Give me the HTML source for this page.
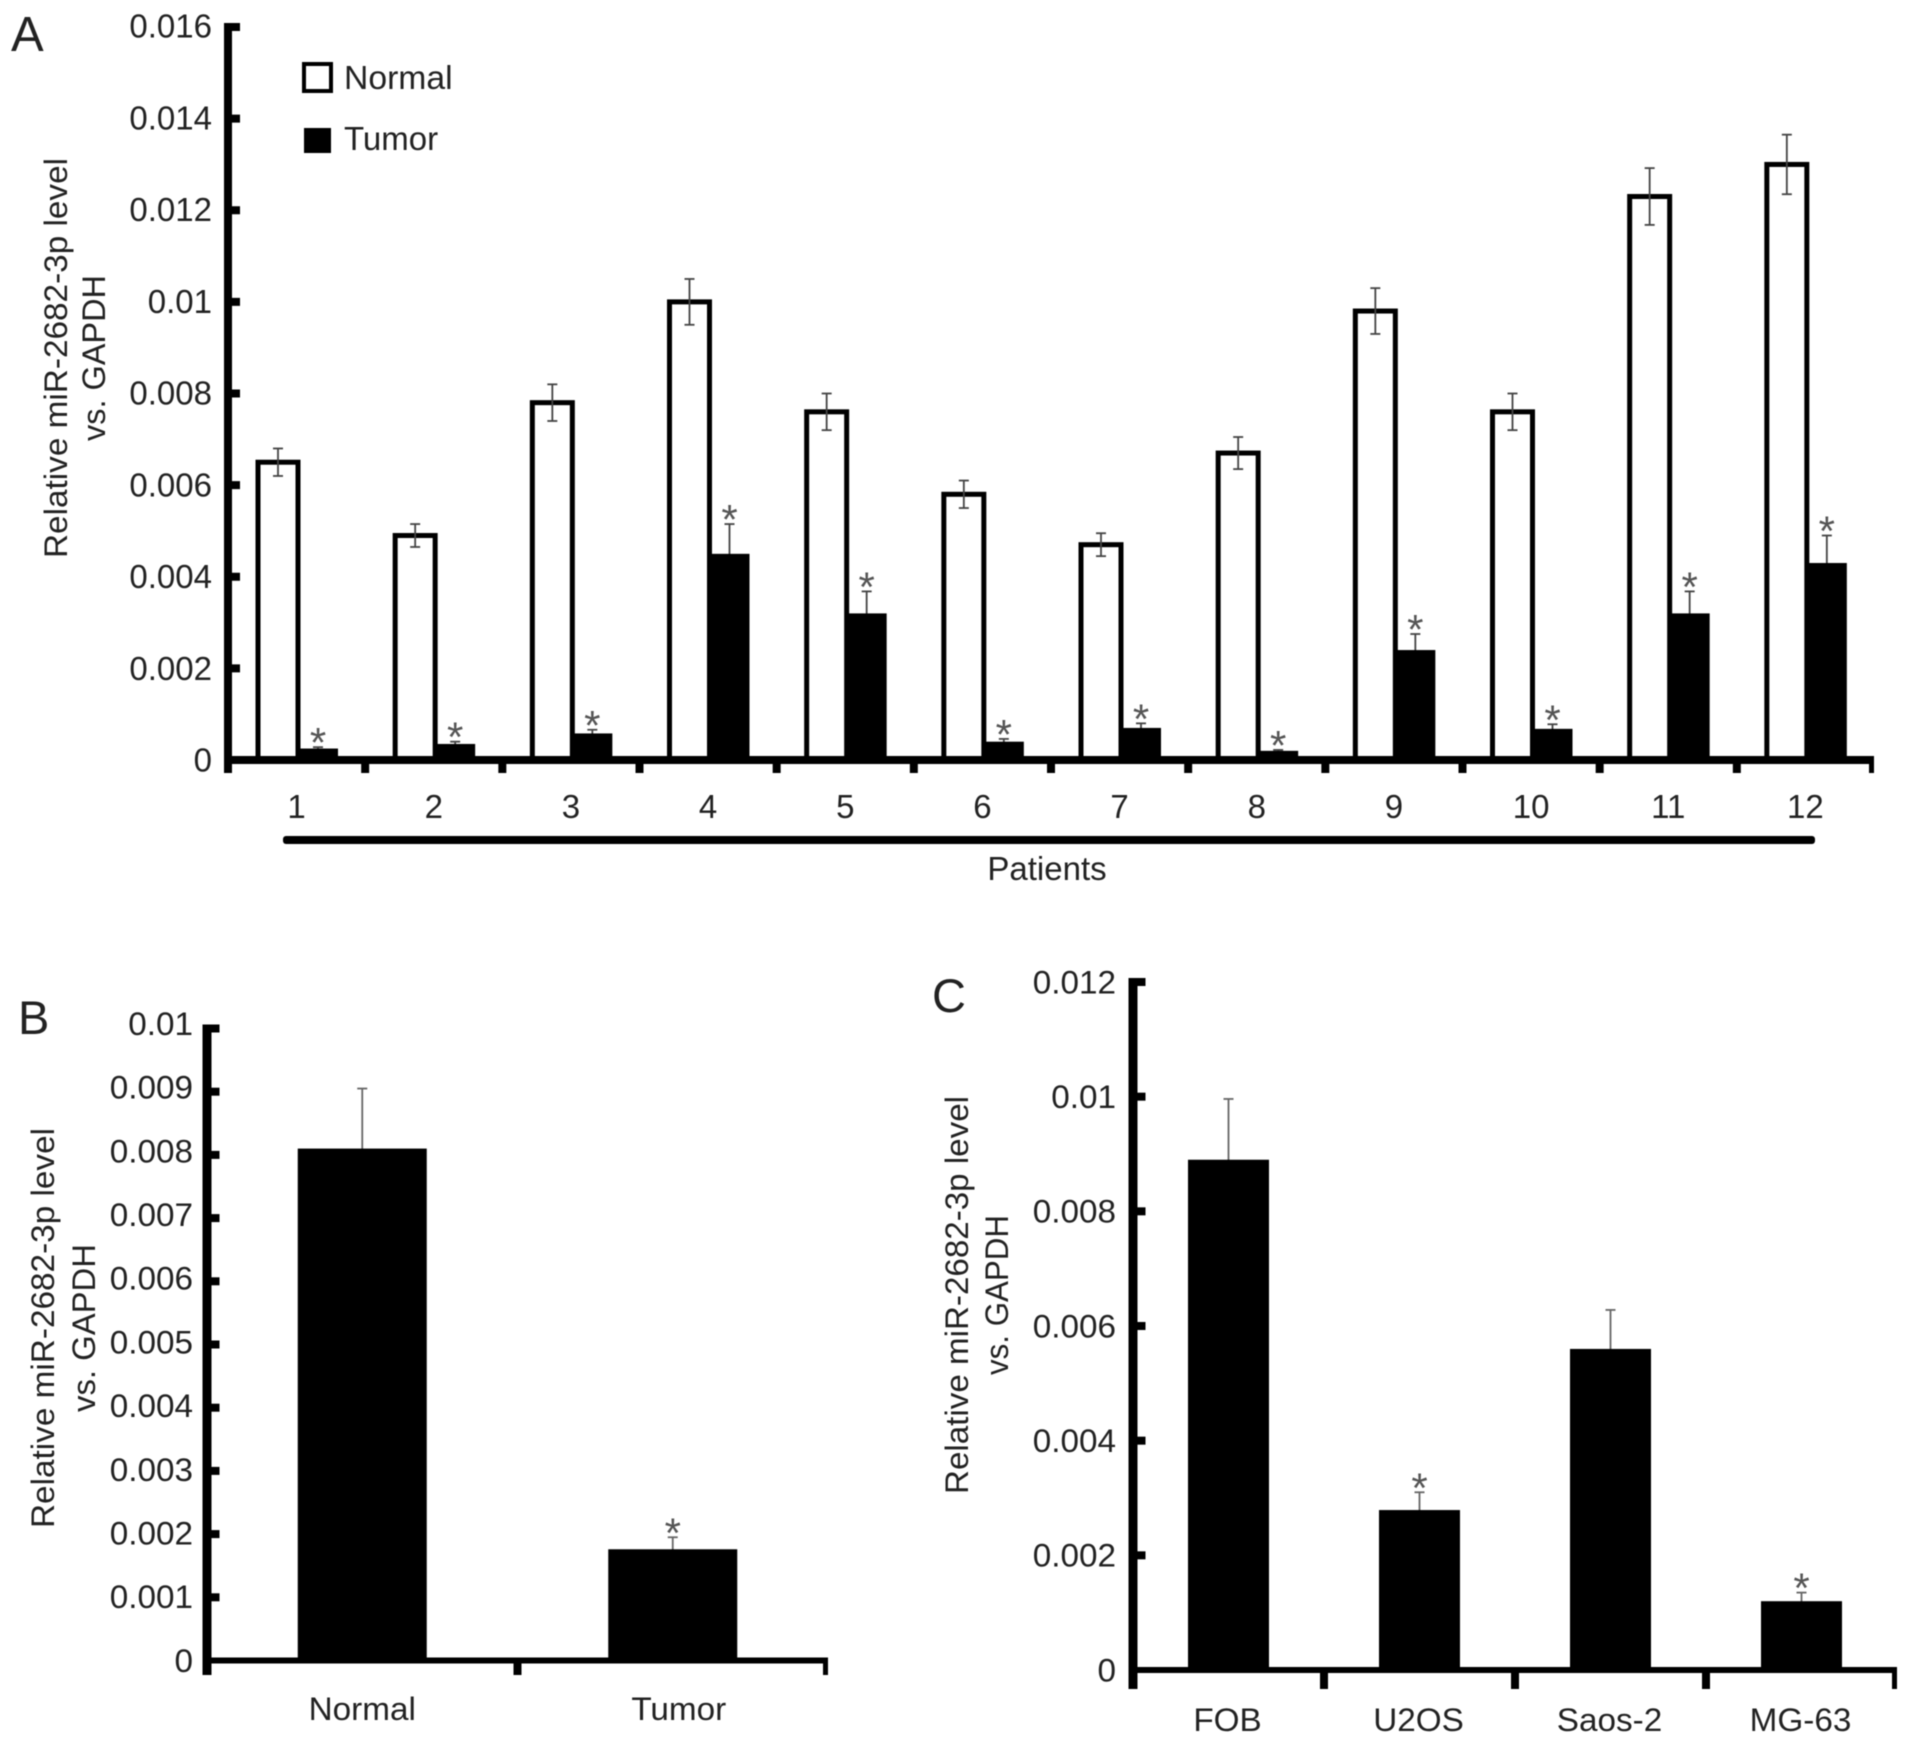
<!DOCTYPE html>
<html><head><meta charset="utf-8"><title>miR-2682-3p expression chart</title>
<style>
html,body{margin:0;padding:0;background:#fff;width:1913px;height:1747px;overflow:hidden}
svg{display:block;filter:blur(0.6px)}
text{font-family:"Liberation Sans",sans-serif;fill:#222}
</style></head>
<body>
<svg id="figure" xmlns="http://www.w3.org/2000/svg" width="1913" height="1747" viewBox="0 0 1913 1747">
<rect width="1913" height="1747" fill="#fff"/>
<g>
<text x="11" y="51" font-size="49">A</text>
<text x="18" y="1034" font-size="47">B</text>
<text x="932" y="1012" font-size="47">C</text>
</g>
<g>
<rect x="304" y="64" width="27" height="27" fill="#fff" stroke="#000" stroke-width="4"/>
<text x="344" y="89" font-size="33.7">Normal</text>
<rect x="304" y="128" width="27" height="25" fill="#000"/>
<text x="344" y="150" font-size="33">Tumor</text>
</g>
<rect x="283" y="836" width="1532" height="8" rx="3" fill="#000"/>
<text x="1047" y="880" font-size="33" text-anchor="middle">Patients</text>
<g id="chartA"></g>
<g id="chartB"></g>
<g id="chartC"></g>
</svg>
<script>
// Panel A data
var aCategories = ['1','2','3','4','5','6','7','8','9','10','11','12'];
var aNormal = [0.0065,0.0049,0.0078,0.0100,0.0076,0.0058,0.0047,0.0067,0.0098,0.0076,0.0123,0.0130];
var aNormalErr = [0.0003,0.00025,0.0004,0.0005,0.0004,0.0003,0.00025,0.00035,0.0005,0.0004,0.00062,0.00065];
var aTumor = [0.00025,0.00035,0.00058,0.0045,0.0032,0.0004,0.0007,0.0002,0.0024,0.00068,0.0032,0.0043];
var aTumorErr = [0.00003,0.00005,0.00008,0.00065,0.00048,0.00006,0.0001,0.00002,0.00035,0.0001,0.00048,0.0006];
var aTicks = ['0','0.002','0.004','0.006','0.008','0.01','0.012','0.014','0.016'];
// Panel B data
var bCategories = ['Normal','Tumor'];
var bValues = [0.0081,0.00176];
var bErr = [0.00095,0.00019];
var bStars = [false,true];
var bTicks = ['0','0.001','0.002','0.003','0.004','0.005','0.006','0.007','0.008','0.009','0.01'];
// Panel C data
var cCategories = ['FOB','U2OS','Saos-2','MG-63'];
var cValues = [0.0089,0.00279,0.0056,0.0012];
var cErr = [0.00106,0.00031,0.00068,0.00015];
var cStars = [false,true,false,true];
var cTicks = ['0','0.002','0.004','0.006','0.008','0.01','0.012'];

var NS = 'http://www.w3.org/2000/svg';
function mk(parent, tag, attrs, txt){
  var el = document.createElementNS(NS, tag);
  for (var k in attrs) el.setAttribute(k, attrs[k]);
  if (txt !== undefined) el.textContent = txt;
  parent.appendChild(el);
  return el;
}
function yScale(zero, top, max){ return function(v){ return zero - (v / max) * (zero - top); }; }

function drawAxes(g, c, ticks, xCats){
  var y = c.y;
  var yAxis = mk(g, 'rect', {x:c.ax-c.aw/2, y:c.top-4, width:c.aw, height:c.tickBottom-c.top+4, fill:'#000'});
  
  
  var xAxis = mk(g, 'rect', {x:c.ax, y:c.zero-c.xw/2, width:c.right-c.ax, height:c.xw, fill:'#000'});
  
  
  var maxTick = parseFloat(ticks[ticks.length-1]);
  ticks.forEach(function(label){
    var val = parseFloat(label);
    var py = y(val);
    if (val > 0) {
      var t = mk(g, 'rect', {x:c.ax, y:py-4, width:c.aw/2+8, height:8, fill:'#000'});
      
      
    }
    var ly = py + c.fs*0.355 - c.labelLift*(val/maxTick);
    var lab = mk(g, 'text', {'text-anchor':'end', 'font-size':c.fs,
      transform:'translate(' + c.labelRight + ',' + ly + ') scale(' + c.sx + ',1)'}, label);
    
    
  });
  var step = (c.right - c.ax) / xCats.length;
  xCats.forEach(function(cat, i){
    var x = c.ax + step * (i + 1);
    var t = mk(g, 'rect', {x:(i === xCats.length-1 ? x-5 : x-4), y:c.zero, width:(i === xCats.length-1 ? 5 : 8), height:c.tickBottom-c.zero, fill:'#000'});
    
    
    var lab = mk(g, 'text', {'text-anchor':'middle', 'font-size':c.fs,
      transform:'translate(' + (c.ax + step*(i+0.5) + c.labelShift + c.labelSpread*i) + ',' + c.catY + ') scale(' + c.sx + ',1)'}, cat);
    
    
  });
  return step;
}
function drawErr(g, x, v, e, y, color){
  var line = mk(g, 'line', {x1:x, x2:x, y1:y(v-e), y2:y(v+e), stroke:color, 'stroke-width':1.8});
  
  
  var cap = mk(g, 'line', {x1:x-5, x2:x+5, y1:y(v+e), y2:y(v+e), stroke:color, 'stroke-width':1.8});
  
  
  var cap2 = mk(g, 'line', {x1:x-5, x2:x+5, y1:y(v-e), y2:y(v-e), stroke:color, 'stroke-width':1.8});
  
  
}
function drawStar(g, x, yTop){
  var s = mk(g, 'text', {x:x, y:yTop+10, 'text-anchor':'middle', 'font-size':42, style:'fill:#555'}, '*');
  
  
}
function title(g, x, yc, len, text, size){
  var t = mk(g, 'text', {transform:'translate(' + x + ',' + yc + ') rotate(-90)', 'text-anchor':'middle',
    'font-size':size, textLength:len, lengthAdjust:'spacingAndGlyphs'}, text);
  
  
}

// Panel A
(function(){
  var g = document.getElementById('chartA');
  var c = {ax:228, aw:8, xw:8, top:27, zero:760, right:1874, tickBottom:773, labelRight:212, fs:33, sx:1, catY:818, labelShift:0, labelSpread:0, labelLift:1};
  c.y = yScale(c.zero, c.top, 0.016);
  title(g, 67, 358, 400, 'Relative miR-2682-3p level', 32);
  title(g, 105, 358, 166, 'vs. GAPDH', 32);
  var bw = 40, step = (c.right - c.ax) / aCategories.length;
  aCategories.forEach(function(cat, i){
    var x0 = c.ax + 30 + step * i;
    var top = c.y(aNormal[i]);
    var nb = mk(g, 'rect', {x:x0, y:top, width:bw, height:c.zero-top, fill:'#fff', stroke:'#000', 'stroke-width':5});
    
    
    drawErr(g, x0+bw/2, aNormal[i], aNormalErr[i], c.y, '#444');
    var tx = x0 + bw;
    drawErr(g, tx+bw/2, aTumor[i], aTumorErr[i], c.y, '#444');
    var ttop = c.y(aTumor[i]);
    var tb = mk(g, 'rect', {x:tx, y:ttop, width:bw, height:c.zero-ttop, fill:'#000'});
    
    
    drawStar(g, tx+bw/2, c.y(aTumor[i]+aTumorErr[i]));
  });
  drawAxes(g, c, aTicks, aCategories);
})();

// Panel B
(function(){
  var g = document.getElementById('chartB');
  var c = {ax:207, aw:9, xw:6, top:1028.5, zero:1660.5, right:828, tickBottom:1675, labelRight:193, fs:32, sx:1.04, catY:1720, labelShift:0, labelSpread:6, labelLift:5};
  c.y = yScale(c.zero, c.top, 0.01);
  title(g, 54, 1328, 400, 'Relative miR-2682-3p level', 32);
  title(g, 95, 1328, 168, 'vs. GAPDH', 32);
  var step = (c.right - c.ax) / bCategories.length, bw = 129;
  bCategories.forEach(function(cat, i){
    var cx = c.ax + step*(i+0.5);
    drawErr(g, cx, bValues[i], bErr[i], c.y, '#666');
    var top = c.y(bValues[i]);
    var b = mk(g, 'rect', {x:cx-bw/2, y:top, width:bw, height:c.zero-top, fill:'#000'});
    
    
    if (bStars[i]) drawStar(g, cx, c.y(bValues[i]+bErr[i]));
  });
  drawAxes(g, c, bTicks, bCategories);
})();

// Panel C
(function(){
  var g = document.getElementById('chartC');
  var c = {ax:1133, aw:9, xw:6, top:982, zero:1670, right:1897, tickBottom:1689, labelRight:1116, fs:32, sx:1.04, catY:1731, labelShift:-1, labelSpread:0, labelLift:0};
  c.y = yScale(c.zero, c.top, 0.012);
  title(g, 968, 1295, 398, 'Relative miR-2682-3p level', 32);
  title(g, 1008, 1295, 160, 'vs. GAPDH', 32);
  var step = (c.right - c.ax) / cCategories.length, bw = 81;
  cCategories.forEach(function(cat, i){
    var cx = c.ax + step*(i+0.5);
    drawErr(g, cx, cValues[i], cErr[i], c.y, '#666');
    var top = c.y(cValues[i]);
    var b = mk(g, 'rect', {x:cx-bw/2, y:top, width:bw, height:c.zero-top, fill:'#000'});
    
    
    if (cStars[i]) drawStar(g, cx, c.y(cValues[i]+cErr[i]));
  });
  drawAxes(g, c, cTicks, cCategories);
})();
</script>
</body></html>
